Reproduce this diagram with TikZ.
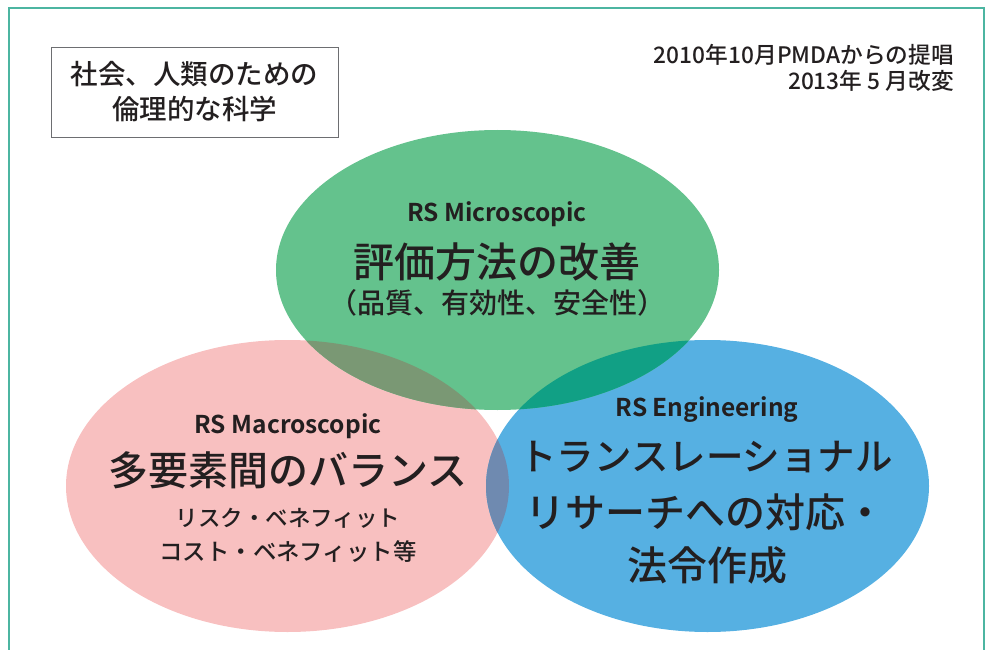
\documentclass[tikz,border=0pt]{standalone}
\usepackage{fontspec}
\setmainfont{Noto Sans CJK JP Medium}
\newfontfamily\jpbold{Noto Sans CJK JP Bold}
\definecolor{greenc}{HTML}{64C28D}
\definecolor{pinkc}{HTML}{F8C0C0}
\definecolor{bluec}{HTML}{56B0E2}
\definecolor{gpc}{HTML}{7A9874}
\definecolor{gbc}{HTML}{11A085}
\definecolor{pbc}{HTML}{6F8AB0}
\definecolor{framec}{HTML}{4CB5A1}
\definecolor{boxc}{HTML}{6D6E71}
\definecolor{txtc}{HTML}{231F20}
\tikzset{
  txt/.style={text=txtc, inner sep=0pt, anchor=center},
  boldlabel/.style={txt, font=\jpbold\fontsize{24.5}{28}\selectfont},
  bigtext/.style={txt, font=\fontsize{40}{48}\selectfont},
}
\begin{document}
\begin{tikzpicture}[x=1pt,y=-1pt]
\useasboundingbox (0,0) rectangle (990,650);
% frame
\draw[framec, line width=1.5pt] (9,662) -- (9,8) -- (984,8) -- (984,662);
% ellipses
\fill[pinkc] (287.5,486) ellipse [x radius=221.5pt, y radius=146pt];
\fill[bluec] (707.5,486) ellipse [x radius=221.5pt, y radius=146pt];
\fill[greenc] (497.5,270) ellipse [x radius=221.5pt, y radius=140pt];
\begin{scope}
  \clip (287.5,486) ellipse [x radius=221.5pt, y radius=146pt];
  \fill[gpc] (497.5,270) ellipse [x radius=221.5pt, y radius=140pt];
  \fill[pbc] (707.5,486) ellipse [x radius=221.5pt, y radius=146pt];
\end{scope}
\begin{scope}
  \clip (707.5,486) ellipse [x radius=221.5pt, y radius=146pt];
  \fill[gbc] (497.5,270) ellipse [x radius=221.5pt, y radius=140pt];
\end{scope}
% box
\node[draw=boxc, line width=0.8pt, minimum width=287pt, minimum height=90pt,
      align=center, text=txtc, inner sep=0pt,
      font=\fontsize{27.5}{35}\selectfont] (box) at (194.5,92)
      {社会、人類のための\\倫理的な科学};
% date
\node[txt, anchor=east, align=right, font=\fontsize{22.7}{26}\selectfont] (date) at (954,68)
      {2010年10月PMDAからの提唱\\2013年 5 月改変};
% green
\node[boldlabel] (micro) at (497,214) {RS Microscopic};
\node[txt, font=\fontsize{41}{48}\selectfont] (hyouka) at (497,262) {評価方法の改善};
\node[txt, font=\fontsize{28}{32}\selectfont] (hinshitsu) at (497,303) {（品質、有効性、安全性）};
% pink
\node[boldlabel] (macro) at (288,426) {RS Macroscopic};
\node[bigtext] (tayouso) at (288,470) {多要素間のバランス};
\node[txt, font=\fontsize{22.5}{26}\selectfont] (risk) at (288,518) {リスク・ベネフィット};
\node[txt, font=\fontsize{23.4}{27}\selectfont] (cost) at (288,552) {コスト・ベネフィット等};
% blue
\node[boldlabel] (eng) at (707,410) {RS Engineering};
\node[txt, font=\fontsize{37.5}{44}\selectfont] (trans) at (706,457) {トランスレーショナル};
\node[txt, font=\fontsize{40}{44}\selectfont] (research) at (705,512) {リサーチへの対応・};
\node[bigtext] (houre) at (707,565) {法令作成};
\end{tikzpicture}
\end{document}
